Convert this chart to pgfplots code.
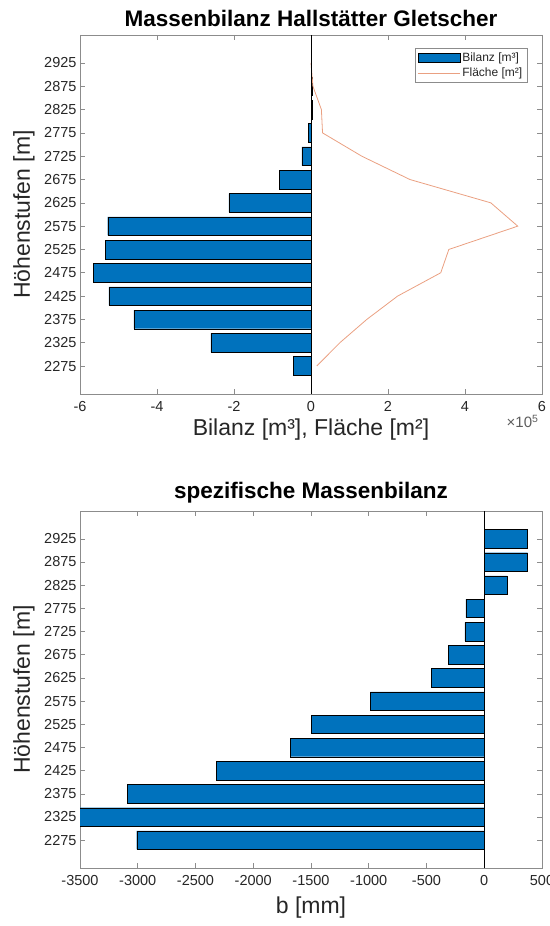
\documentclass[border=0pt]{standalone}
\usepackage{fontspec}
\setmainfont{Liberation Sans}
\usepackage{pgfplots}
\pgfplotsset{compat=1.18}
\definecolor{mblue}{HTML}{0072BD}
\definecolor{morange}{HTML}{D95319}
\definecolor{axgray}{HTML}{8C8C8C}
\definecolor{txt}{HTML}{262626}

\pgfplotsset{
  common/.style={
    scale only axis,
    width=462pt,
    ymin=2215, ymax=2985,
    ytick={2275,2325,...,2925},
    axis line style={axgray, line width=0.8pt},
    tick style={axgray, line width=0.6pt},
    tick align=inside,
    major tick length=5pt,
    tick label style={font=\fontsize{14.5}{16}\selectfont, text=txt},
    /pgf/number format/assume math mode=true,
    /pgf/number format/1000 sep={},
    xticklabel style={yshift=-4pt},
    title style={font=\bfseries\fontsize{22.5}{26}\selectfont, text=black, anchor=center},
    xlabel style={font=\fontsize{23}{26}\selectfont, text=txt, anchor=center},
    ylabel style={font=\fontsize{23}{26}\selectfont, text=txt, anchor=center,
      at={(axis description cs:-0.1212,0.5)}},
  }
}

\pgfplotstableread{
y bil flaeche
2275 -45000 15000
2325 -260000 75000
2375 -460000 145000
2425 -525000 225000
2475 -565000 337000
2525 -535000 358000
2575 -528000 537000
2625 -213000 467000
2675 -83000 257000
2725 -24000 132000
2775 -7000 30000
2825 4000 27000
2875 2000 5000
2925 500 0
}\tabtop

\pgfplotstableread{
y b
2275 -3009
2325 -3560
2375 -3091
2425 -2321
2475 -1676
2525 -1494
2575 -985
2625 -458
2675 -309
2725 -167
2775 -160
2825 200
2875 376
2925 373
}\tabbot

\begin{document}
\begin{tikzpicture}
\useasboundingbox (0pt,0pt) rectangle (549pt,926pt);

\begin{axis}[common,
  at={(80pt,532pt)}, anchor=south west,
  height=359pt,
  clip mode=individual,
  xmin=-600000, xmax=600000,
  xtick={-600000,-400000,-200000,0,200000,400000,600000},
  scaled x ticks=manual:{}{\pgfmathparse{#1/100000}},
  title={Massenbilanz Hallstätter Gletscher},
  title style={at={(axis description cs:0.5,1.029)}},
  xlabel={Bilanz [m³], Fläche [m²]},
  xlabel style={at={(axis description cs:0.5,-0.1)}},
  ylabel={Höhenstufen [m]},
  legend style={at={(axis description cs:0.9675,0.9638)}, anchor=north east,
    draw=axgray, fill=white, font=\fontsize{12}{13}\selectfont, text=txt,
    inner sep=2.5pt, row sep=1pt, legend cell align=left},
  after end axis/.code={
    \node[font=\fontsize{15}{17}\selectfont, text=txt!75!white, anchor=center]
      at (axis description cs:0.958,-0.076) {×10\textsuperscript{5}};
  },
]
\addplot[xbar, bar width=40, fill=mblue, draw=black, line width=0.4pt,
  legend image code/.code={\draw[fill=mblue, draw=black, line width=0.4pt] (0pt,-4.5pt) rectangle (42pt,4.5pt);}]
  table[x=bil, y=y] {\tabtop};
\addlegendentry{Bilanz [m³]}
\addplot[morange!55!white, line width=0.8pt, mark=none,
  legend image code/.code={\draw[morange!55!white, line width=0.8pt] (0pt,0pt) -- (42pt,0pt);}]
  table[x=flaeche, y=y] {\tabtop};
\addlegendentry{Fläche [m²]}
\addplot[black, line width=0.5pt, forget plot] coordinates {(0,2215) (0,2985)};
\end{axis}

\begin{axis}[common,
  at={(80pt,58pt)}, anchor=south west,
  height=357pt,
  xmin=-3500, xmax=500,
  xtick={-3500,-3000,...,500},
  title={spezifische Massenbilanz},
  title style={at={(axis description cs:0.5,1.034)}},
  xlabel={b [mm]},
  xlabel style={at={(axis description cs:0.5,-0.112)}},
  ylabel={Höhenstufen [m]},
]
\addplot[xbar, bar width=40, fill=mblue, draw=black, line width=0.4pt]
  table[x=b, y=y] {\tabbot};
\addplot[black, line width=0.5pt, forget plot] coordinates {(0,2215) (0,2985)};
\end{axis}
\end{tikzpicture}
\end{document}
